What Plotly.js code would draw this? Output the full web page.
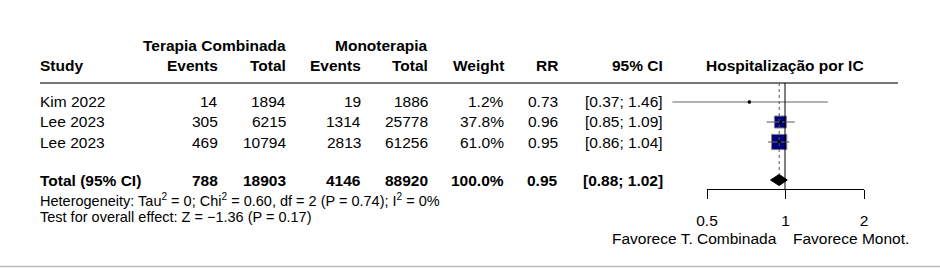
<!DOCTYPE html>
<html>
<head>
<meta charset="utf-8">
<script src="https://cdn.plot.ly/plotly-3.0.1.min.js"></script>
<style>
html,body{margin:0;padding:0;background:#fff;}
#chart{width:940px;height:268px;}
</style>
</head>
<body>
<div id="chart"></div>
<script>
// ---- data ----
const studies = ['Kim 2022', 'Lee 2023', 'Lee 2023'];
const eventsComb = [14, 305, 469];
const totalComb = [1894, 6215, 10794];
const eventsMono = [19, 1314, 2813];
const totalMono = [1886, 25778, 61256];
const weights = [1.2, 37.8, 61.0];
const rr = [0.73, 0.96, 0.95];
const ciLow = [0.37, 0.85, 0.86];
const ciHigh = [1.46, 1.09, 1.04];
const pooledRR = [0.95];
const pooledLow = [0.88];
const pooledHigh = [1.02];
const totalEventsComb = [788];
const totalTotalComb = [18903];
const totalEventsMono = [4146];
const totalTotalMono = [88920];
const totalWeight = [100.0];
const tickVals = [0.5, 1, 2];
const tickLabels = ['0.5', '1', '2'];
const hetText = 'Heterogeneity: Tau<sup>2</sup> = 0; Chi<sup>2</sup> = 0.60, df = 2 (P = 0.74); I<sup>2</sup> = 0%';
const testText = 'Test for overall effect: Z = \u22121.36 (P = 0.17)';

// ---- geometry (pixels) ----
const W = 940, H = 268;
const FONT = '"Liberation Sans", Arial, sans-serif';
const FS = 15.5;
const x1px = 785, pxPerDecade = 260.8;
const xRange = [(0 - x1px) / pxPerDecade, (W - x1px) / pxPerDecade];
const plotTop = 83, plotBottom = 189;
const row0px = 102, rowStep = 20;
const yTopVal = 1 + (plotTop - row0px) / rowStep;
const yBotVal = 1 + (plotBottom - row0px) / rowStep;
const rows = studies.map((s, i) => i + 1);
const totalRow = studies.length + 1.9;
const px = v => v / W;
const py = v => 1 - v / H;

// ---- traces ----
const ciX = [], ciY = [];
rows.forEach((r, i) => { ciX.push(ciLow[i], ciHigh[i], null); ciY.push(r, r, null); });

const sqSizes = weights.map(w => 1.95 * Math.sqrt(w));

const traces = [
  { x: rr, y: rows, type: 'scatter', mode: 'markers', xaxis: 'x', yaxis: 'y',
    marker: { symbol: 'square', size: sqSizes, color: '#000080', opacity: 1,
      line: { color: '#808080', width: 1 } },
    hoverinfo: 'skip' },
  { x: ciX, y: ciY, type: 'scatter', mode: 'lines', xaxis: 'x', yaxis: 'y',
    line: { color: '#666', width: 1.1 }, hoverinfo: 'skip' },
  { x: rr, y: rows, type: 'scatter', mode: 'markers', xaxis: 'x', yaxis: 'y',
    marker: { symbol: 'circle', size: 3.5, color: '#000', opacity: 1 }, hoverinfo: 'skip' },
  { x: [pooledLow[0], pooledRR[0], pooledHigh[0], pooledRR[0], pooledLow[0]],
    y: [totalRow, totalRow - 0.28, totalRow, totalRow + 0.28, totalRow],
    type: 'scatter', mode: 'lines', fill: 'toself', fillcolor: '#000',
    line: { color: '#000', width: 1 }, xaxis: 'x', yaxis: 'y', hoverinfo: 'skip' },
  { x: [], y: [], type: 'scatter', mode: 'markers', xaxis: 'x2', yaxis: 'y', hoverinfo: 'skip' }
];

// ---- annotations ----
const ann = [];
function txt(text, xPix, yPaperOrRow, anchor, opts) {
  opts = opts || {};
  const a = {
    text: text, x: px(xPix), xref: 'paper', xanchor: anchor,
    y: yPaperOrRow, yref: opts.yref || 'paper', yanchor: 'middle',
    showarrow: false, borderpad: 0, borderwidth: 0,
    font: { family: FONT, size: opts.size || FS, color: '#000', weight: opts.bold ? 'bold' : 'normal' }
  };
  if (opts.bold) a.text = '<b>' + text + '</b>';
  ann.push(a);
}
// headers
txt('Terapia Combinada', 286, py(46), 'right', { bold: true });
txt('Monoterapia', 428, py(46), 'right', { bold: true });
txt('Study', 40, py(66), 'left', { bold: true });
txt('Events', 218, py(66), 'right', { bold: true });
txt('Total', 286, py(66), 'right', { bold: true });
txt('Events', 361, py(66), 'right', { bold: true });
txt('Total', 428, py(66), 'right', { bold: true });
txt('Weight', 504, py(66), 'right', { bold: true });
txt('RR', 558, py(66), 'right', { bold: true });
txt('95% CI', 663, py(66), 'right', { bold: true });
txt('Hospitalização por IC', 785, py(66), 'center', { bold: true });

// study rows
rows.forEach((r, i) => {
  const o = { yref: 'y' };
  txt(studies[i], 40, r, 'left', o);
  txt(String(eventsComb[i]), 218, r, 'right', o);
  txt(String(totalComb[i]), 286, r, 'right', o);
  txt(String(eventsMono[i]), 361, r, 'right', o);
  txt(String(totalMono[i]), 428, r, 'right', o);
  txt(weights[i].toFixed(1) + '%', 504, r, 'right', o);
  txt(rr[i].toFixed(2), 558, r, 'right', o);
  txt('[' + ciLow[i].toFixed(2) + '; ' + ciHigh[i].toFixed(2) + ']', 663, r, 'right', o);
});
// total row
const ob = { yref: 'y', bold: true };
txt('Total (95% CI)', 40, totalRow, 'left', ob);
txt(String(totalEventsComb[0]), 218, totalRow, 'right', ob);
txt(String(totalTotalComb[0]), 286, totalRow, 'right', ob);
txt(String(totalEventsMono[0]), 361, totalRow, 'right', ob);
txt(String(totalTotalMono[0]), 428, totalRow, 'right', ob);
txt(totalWeight[0].toFixed(1) + '%', 504, totalRow, 'right', ob);
txt(pooledRR[0].toFixed(2), 558, totalRow, 'right', ob);
txt('[' + pooledLow[0].toFixed(2) + '; ' + pooledHigh[0].toFixed(2) + ']', 663, totalRow, 'right', ob);
// heterogeneity
txt(hetText, 40, py(200), 'left', { size: 14.5 });
txt(testText, 40, py(217), 'left', { size: 14.5 });
// favours labels
txt('Favorece T. Combinada', 777, py(238), 'right');
txt('Favorece Monot.', 793, py(238), 'left');

// ---- shapes ----
const shapes = [
  { type: 'line', xref: 'paper', yref: 'paper', x0: px(40), x1: px(898), y0: py(83), y1: py(83),
    line: { color: '#777', width: 2 } },
  { type: 'line', xref: 'x', yref: 'y domain', x0: 1, x1: 1, y0: 0, y1: 1,
    line: { color: '#000', width: 1 } },
  { type: 'line', xref: 'x', yref: 'y', x0: pooledRR[0], x1: pooledRR[0], y0: yTopVal, y1: totalRow - 0.28,
    line: { color: '#555', width: 1, dash: 'dot' } },
  { type: 'line', xref: 'paper', yref: 'paper', x0: 0, x1: 1, y0: py(266.5), y1: py(266.5),
    line: { color: '#bbb', width: 1.5 } }
];

const layout = {
  width: W, height: H, autosize: false,
  margin: { l: 0, r: 0, t: 0, b: 0, pad: 0 },
  paper_bgcolor: '#fff', plot_bgcolor: 'rgba(0,0,0,0)',
  showlegend: false,
  font: { family: FONT, size: FS, color: '#000' },
  xaxis: { type: 'log', domain: [0, 1], range: xRange, visible: false, fixedrange: true },
  xaxis2: { type: 'log', domain: [px(707), px(864)], range: [Math.log10(0.5), Math.log10(2)],
    anchor: 'y', showline: true, linecolor: '#000', linewidth: 1, ticks: 'outside', ticklen: 9,
    tickcolor: '#000', tickwidth: 1, tickmode: 'array', tickvals: tickVals, ticktext: tickLabels,
    showgrid: false, zeroline: false, tickfont: { family: FONT, size: FS, color: '#000' },
    ticklabelstandoff: 8, fixedrange: true },
  yaxis: { domain: [py(plotBottom), py(plotTop)], range: [yBotVal, yTopVal], visible: false, fixedrange: true },
  annotations: ann,
  shapes: shapes
};

Plotly.newPlot('chart', traces, layout, { staticPlot: true, displayModeBar: false });
</script>
</body>
</html>
